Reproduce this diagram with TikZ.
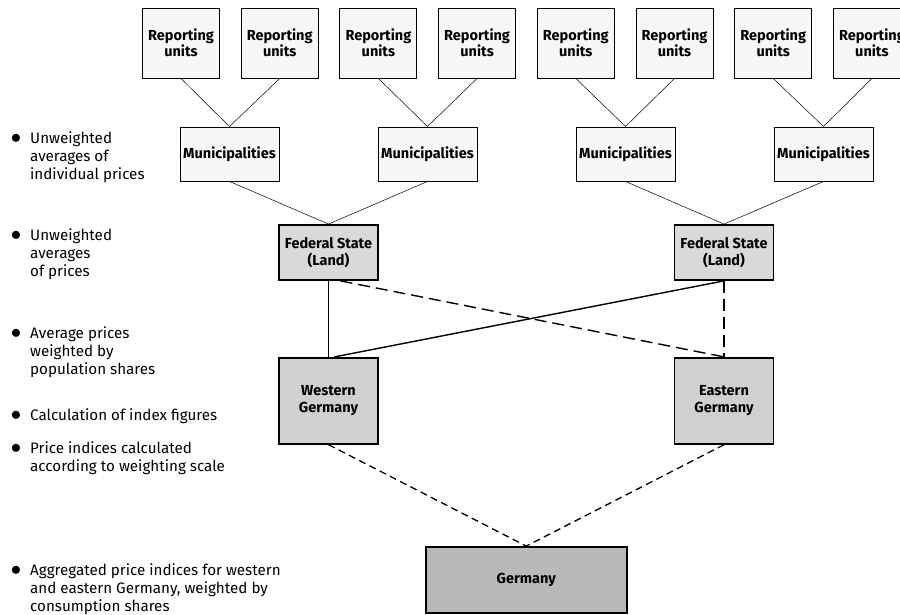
\documentclass[tikz,border=0pt]{standalone}
\usepackage{fontspec}
\setmainfont{Fira Sans}
\usetikzlibrary{positioning}

\begin{document}
\begin{tikzpicture}[
    x=1pt, y=1pt,
    node distance=76pt and 20pt,
    unitbox/.style={
        rectangle,
        draw,
        fill=gray!6,
        line width=0.9pt,
        minimum width=77pt,
        minimum height=70pt,
        inner sep=0pt,
        align=center,
        font=\fontsize{14.5}{16.5}\selectfont\bfseries
    },
    munibox/.style={
        unitbox,
        minimum width=99pt,
        minimum height=54pt
    },
    statebox/.style={
        unitbox,
        minimum width=99pt,
        minimum height=55pt,
        line width=1.8pt,
        fill=gray!30
    },
    regionbox/.style={
        statebox,
        minimum height=86pt,
        fill=gray!37
    },
    nationbox/.style={
        statebox,
        minimum width=201pt,
        minimum height=66pt,
        fill=gray!55
    },
    note/.style={
        anchor=north west,
        align=left,
        inner sep=0pt,
        font=\fontsize{15.2}{18}\selectfont
    },
    feed/.style={
        draw,
        line width=0.5pt
    },
    sumline/.style={
        draw,
        line width=1.4pt
    },
    longdash/.style={
        draw,
        line width=1.4pt,
        dash pattern=on 12pt off 6pt
    },
    shortdash/.style={
        draw,
        line width=1.3pt,
        dash pattern=on 7pt off 4.5pt
    }
]
    \clip (0,0) rectangle (900,615);

    % --- Nodes ---

    % Top row: reporting units, two per municipality
    \foreach \i in {1,...,8}
        \node [unitbox] (rep\i) at ({181+98.7*(\i-1)},572) {Reporting\\units};

    % Municipalities sit under each pair of reporting units
    \foreach \i in {1,...,4}
        \node [munibox] (muni\i) at ({229.5+198*(\i-1)},461) {Municipalities};

    % Federal states (Land)
    \node [statebox] (stateW) at (328.5,362.5) {Federal State\\(Land)};
    \node [statebox] (stateE) at (724,362.5) {Federal State\\(Land)};

    % Western / Eastern Germany straight below the states
    \node [regionbox, below=of stateW] (west) {Western\\Germany};
    \node [regionbox, below=of stateE] (east) {Eastern\\Germany};

    % Germany as a whole, centred between the two parts
    \node [nationbox] (germany) at (526.25,35) {Germany};

    % Notes on the left
    \newcommand{\dotmark}{\llap{{\fontsize{20}{20}\selectfont$\bullet$}\hspace{9pt}}}
    \node [note] (noteA) at (30,484) {\dotmark Unweighted\\averages of\\individual prices};
    \node [note] (noteB) at (30,387) {\dotmark Unweighted\\averages\\of prices};
    \node [note] (noteC) at (30,289) {\dotmark Average prices\\weighted by\\population shares};
    \node [note] (noteD) at (30,207) {\dotmark Calculation of index figures};
    \node [note] (noteE) at (30,174) {\dotmark Price indices calculated\\according to weighting scale};
    \node [note] (noteF) at (30,52) {\dotmark Aggregated price indices for western\\and eastern Germany, weighted by\\consumption shares};

    % --- Connections ---

    % 1. Reporting units -> municipalities
    \foreach \i in {1,...,4} {
        \pgfmathtruncatemacro{\ra}{2*\i-1}
        \pgfmathtruncatemacro{\rb}{2*\i}
        \path [feed] (rep\ra.south) -- (muni\i.north);
        \path [feed] (rep\rb.south) -- (muni\i.north);
    }

    % 2. Municipalities -> federal states
    \path [feed] (muni1.south) -- (stateW.north);
    \path [feed] (muni2.south) -- (stateW.north);
    \path [feed] (muni3.south) -- (stateE.north);
    \path [feed] (muni4.south) -- (stateE.north);

    % 3. Federal states -> western / eastern Germany
    \path [sumline] (stateW.south) -- (west.north);
    \path [sumline] (stateE.south) -- ([xshift=6pt]west.north);
    \path [longdash] ([xshift=12pt]stateW.south) -- (east.north);
    \path [longdash] (stateE.south) -- (east.north);

    % 4. Both parts -> Germany
    \path [shortdash] (west.south) -- (germany.north);
    \path [shortdash] (east.south) -- (germany.north);

\end{tikzpicture}
\end{document}
